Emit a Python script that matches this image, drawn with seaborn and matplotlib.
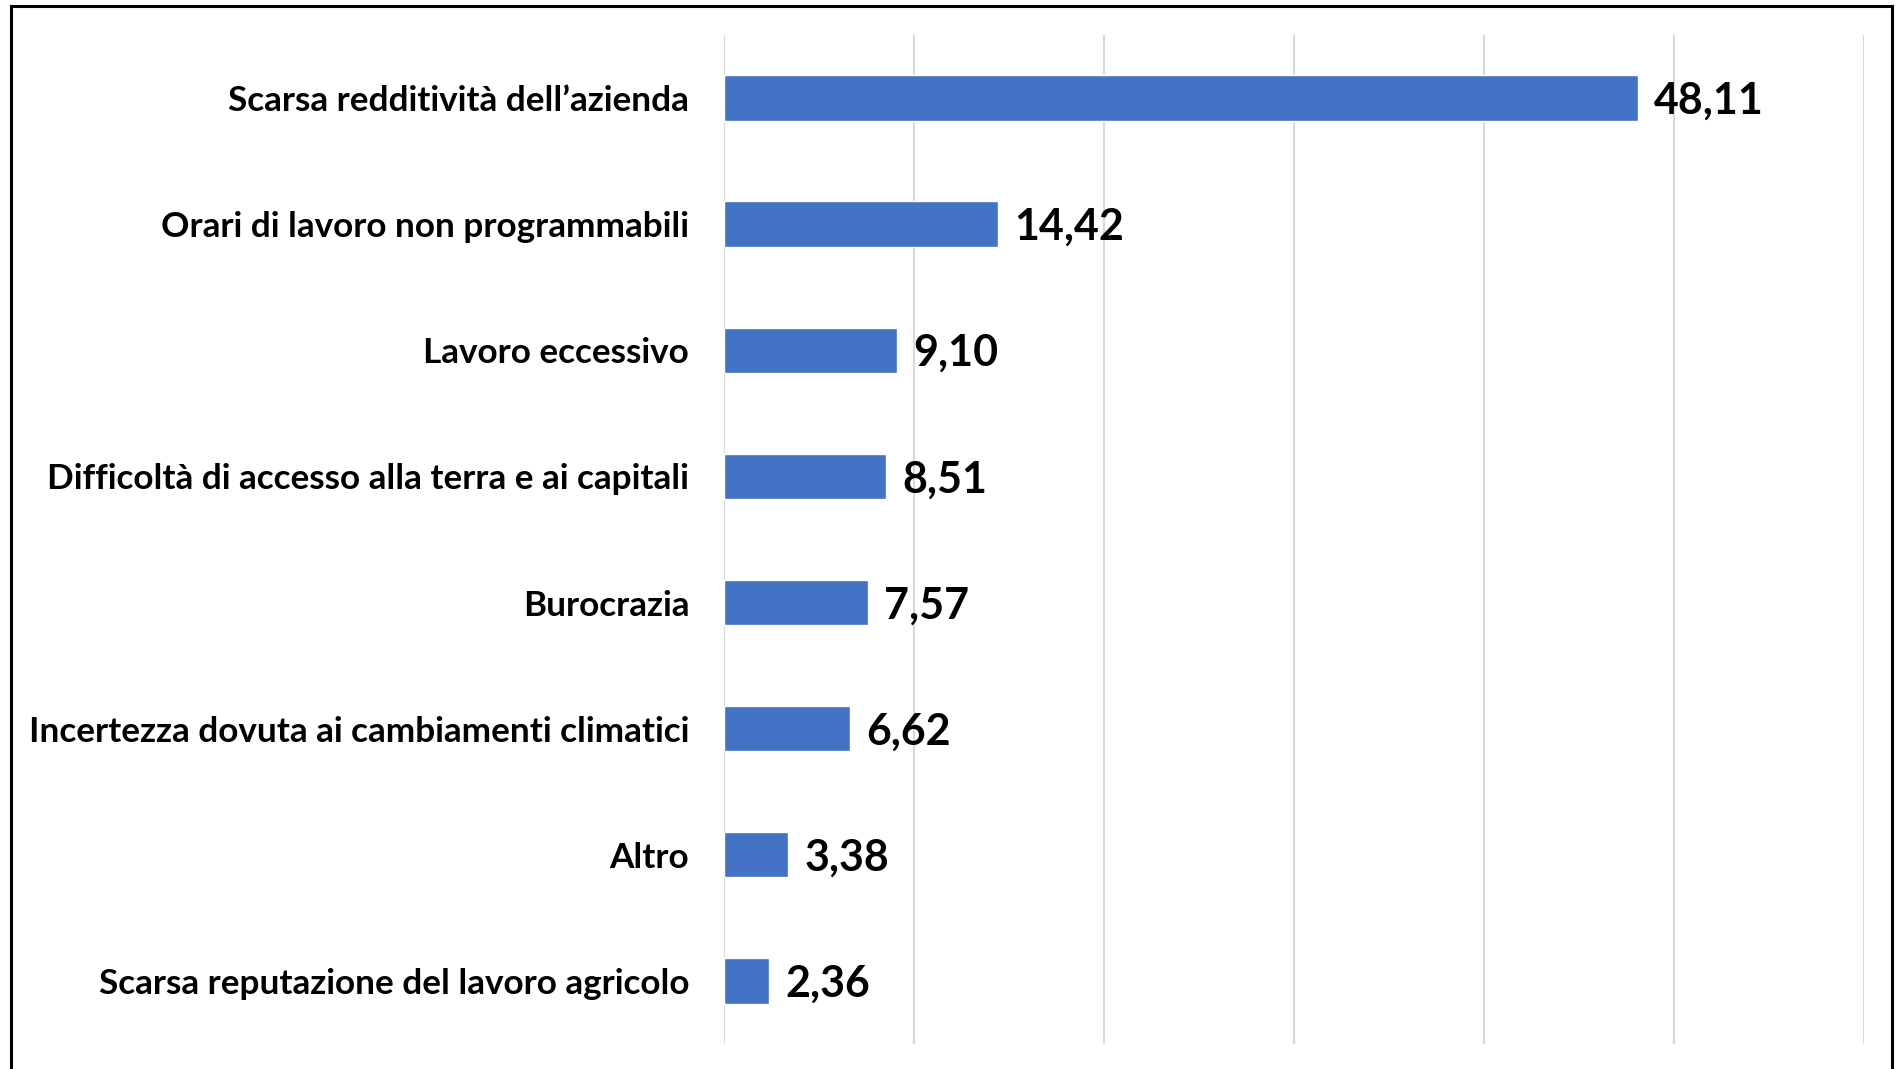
import pandas as pd
from matplotlib import pyplot as plt
from matplotlib.patches import Rectangle
import seaborn as sns

categories = [
    "Scarsa redditività dell’azienda",
    "Orari di lavoro non programmabili",
    "Lavoro eccessivo",
    "Difficoltà di accesso alla terra e ai capitali",
    "Burocrazia",
    "Incertezza dovuta ai cambiamenti climatici",
    "Altro",
    "Scarsa reputazione del lavoro agricolo",
]
values = [48.11, 14.42, 9.10, 8.51, 7.57, 6.62, 3.38, 2.36]
x_ticks = [0, 10, 20, 30, 40, 50, 60]

df = pd.DataFrame({"causa": categories, "valore": values})

sns.set_style("white")
plt.rcParams['font.family'] = ['Lato', 'DejaVu Sans']

fig = plt.figure(figsize=(19.01, 10.69), dpi=100)
ax = fig.add_axes([0.3808, 0.0234, 0.5995, 0.9439])

sns.barplot(data=df, x="valore", y="causa", orient="h", color="#4472C4",
            width=0.36, saturation=1, ax=ax)

ax.set_xlim(0, 60)
ax.set_ylim(len(categories) - 0.5, -0.5)
ax.set_xticks(x_ticks)
ax.set_xticklabels([])
ax.xaxis.grid(True, color="#d9d9d9", linewidth=1.5)
ax.set_axisbelow(True)
for s in ax.spines.values():
    s.set_visible(False)
ax.tick_params(axis="both", length=0)
ax.tick_params(axis="y", pad=25)
for lab in ax.get_yticklabels():
    lab.set_fontsize(25.3)
    lab.set_fontweight("bold")
    lab.set_color("black")
ax.set_xlabel("")
ax.set_ylabel("")

labels = [f"{v:.2f}".replace(".", ",") for v in values]
txts = ax.bar_label(ax.containers[0], labels=labels, padding=12,
                    fontsize=31, fontweight="bold", color="black")
# numeri leggermente più in basso, come nell'originale
for t in txts:
    t.xyann = (12, -2)

# cornice della figura (senza lato inferiore visibile)
fig.add_artist(Rectangle((11 / 1901, -0.05), (1892 - 11) / 1901, 1.05 - 6 / 1069,
                         transform=fig.transFigure, fill=False,
                         edgecolor="black", linewidth=2.2, clip_on=False))

fig.savefig("out.png", dpi=100)
